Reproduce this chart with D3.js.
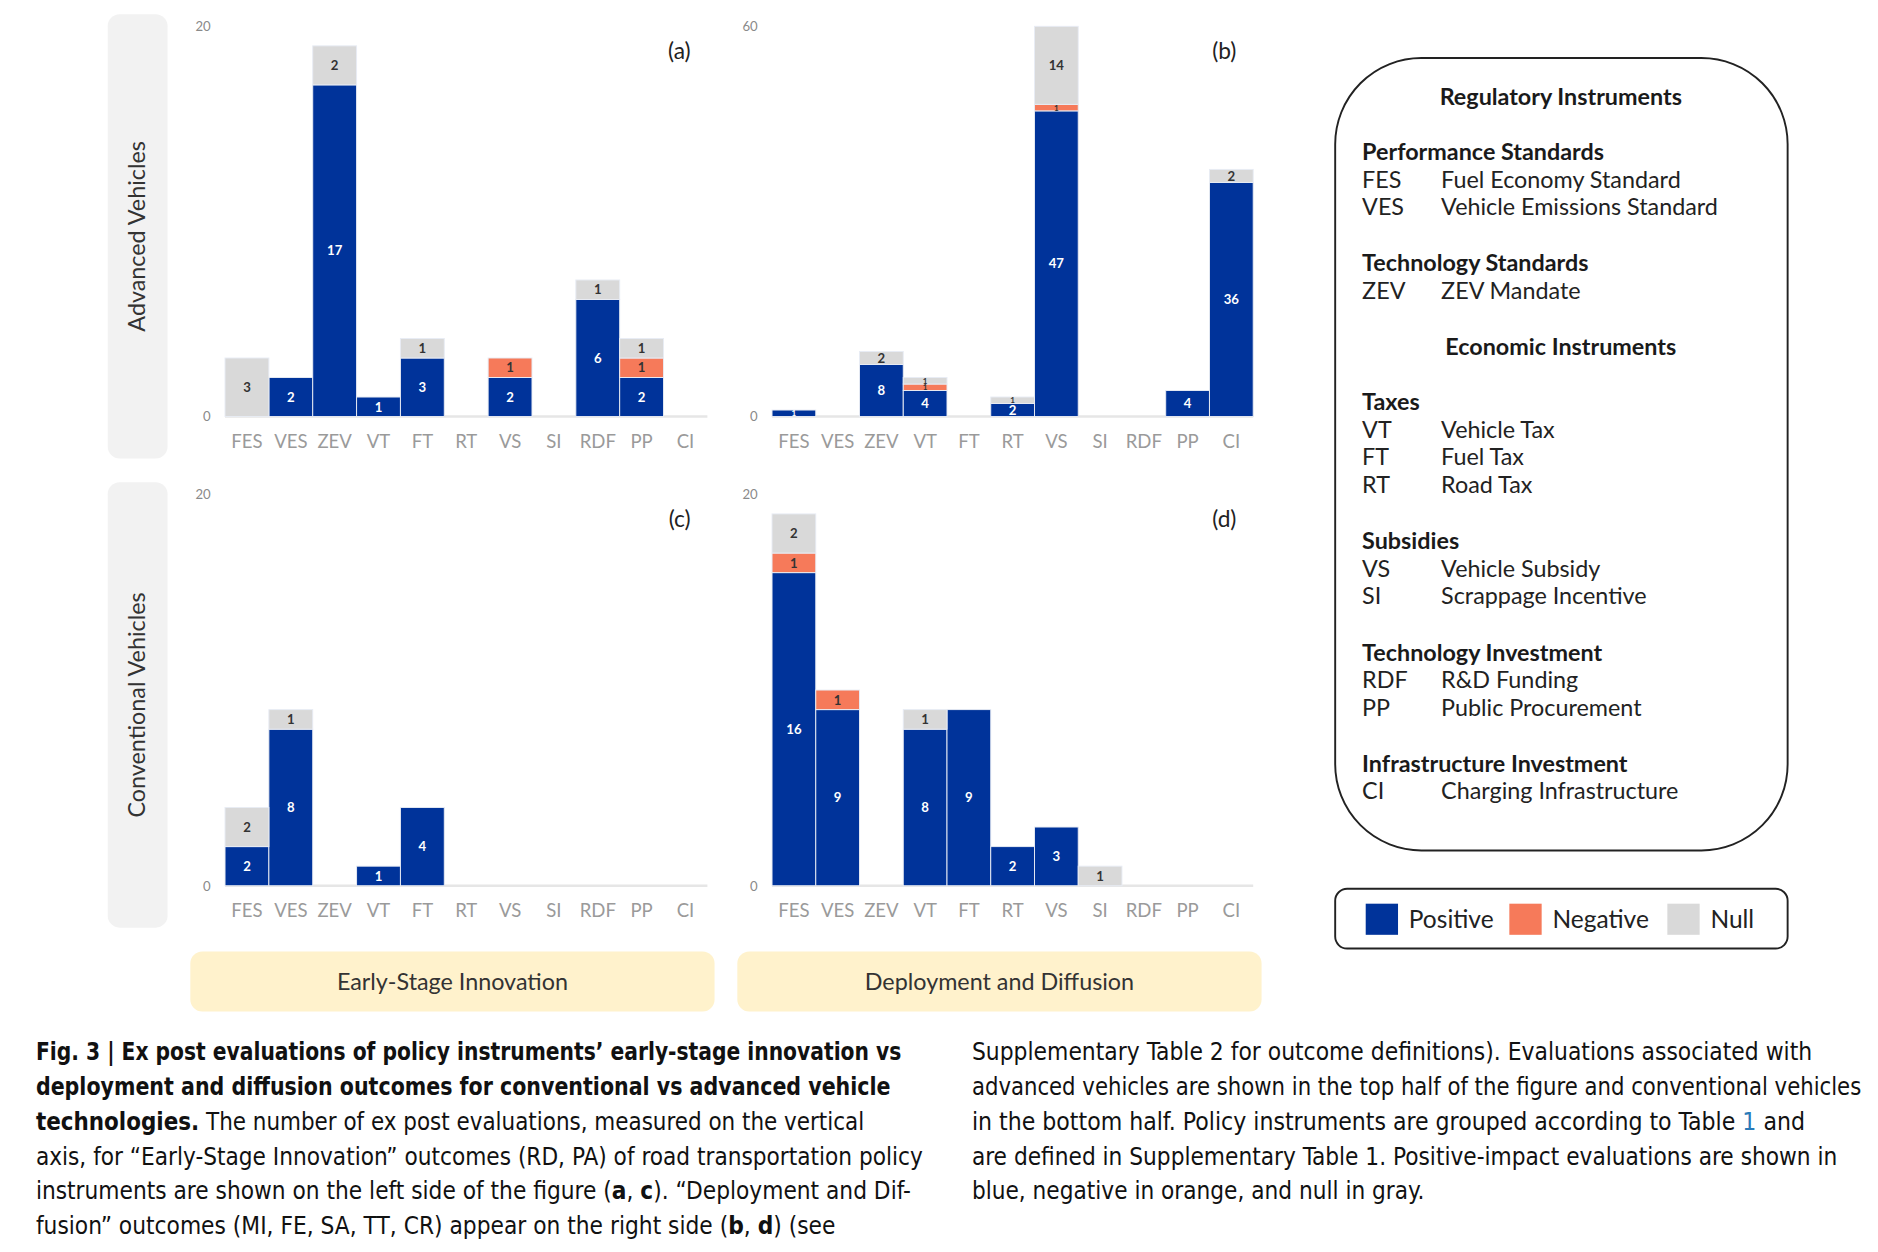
<!DOCTYPE html>
<html>
<head>
<meta charset="utf-8">
<script src="https://cdn.jsdelivr.net/npm/d3@7"></script>
<style>
  html, body { margin: 0; padding: 0; background: #fff; }
  svg { display: block; }
</style>
</head>
<body>
<svg id="fig" width="1878" height="1252" viewBox="0 0 1569 1046"></svg>
<script>
// instruments on the x axis
var categories = ["FES", "VES", "ZEV", "VT", "FT", "RT", "VS", "SI", "RDF", "PP", "CI"];

// (a) advanced vehicles, early-stage innovation
var advEarlyPos  = [0, 2, 17, 1, 3, 0, 2, 0, 6, 2, 0];
var advEarlyNeg  = [0, 0, 0, 0, 0, 0, 1, 0, 0, 1, 0];
var advEarlyNull = [3, 0, 2, 0, 1, 0, 0, 0, 1, 1, 0];
// (b) advanced vehicles, deployment and diffusion
var advDeployPos  = [1, 0, 8, 4, 0, 2, 47, 0, 0, 4, 36];
var advDeployNeg  = [0, 0, 0, 1, 0, 0, 1, 0, 0, 0, 0];
var advDeployNull = [0, 0, 2, 1, 0, 1, 14, 0, 0, 0, 2];
// (c) conventional vehicles, early-stage innovation
var convEarlyPos  = [2, 8, 0, 1, 4, 0, 0, 0, 0, 0, 0];
var convEarlyNeg  = [0, 0, 0, 0, 0, 0, 0, 0, 0, 0, 0];
var convEarlyNull = [2, 1, 0, 0, 0, 0, 0, 0, 0, 0, 0];
// (d) conventional vehicles, deployment and diffusion
var convDeployPos  = [16, 9, 0, 8, 9, 2, 3, 0, 0, 0, 0];
var convDeployNeg  = [1, 1, 0, 0, 0, 0, 0, 0, 0, 0, 0];
var convDeployNull = [2, 0, 0, 1, 0, 0, 0, 1, 0, 0, 0];

var axisMaxTop = 60;     // top-right panel
var axisMaxOther = 20;   // the three others

var outcomeKeys = ["Positive", "Negative", "Null"];
var outcomeColors = ["#00339a", "#f67a5a", "#d9d9d9"];

var svg = d3.select("#fig");
var color = d3.scaleOrdinal().domain(outcomeKeys).range(outcomeColors);

var FONT = "Lato, 'Open Sans', sans-serif";

function rows(pos, neg, nul) {
  return categories.map(function(c, i) {
    return { cat: c, Positive: pos[i], Negative: neg[i], Null: nul[i] };
  });
}

function drawPanel(opt) {
  var x = d3.scaleBand().domain(categories).range([opt.x0, opt.x1]).padding(0);
  var y = d3.scaleLinear().domain([0, opt.max]).range([opt.y0, opt.y1]);
  var g = svg.append("g");

  var series = d3.stack().keys(outcomeKeys)(opt.data);

  // baseline
  g.append("line")
    .attr("x1", opt.x0).attr("x2", opt.x1)
    .attr("y1", y(0)).attr("y2", y(0))
    .attr("stroke", "#e6e6e6").attr("stroke-width", 2);

  var layer = g.selectAll("g.layer").data(series).enter().append("g")
    .attr("class", "layer")
    .attr("fill", function(d) { return color(d.key); });

  layer.selectAll("rect").data(function(d) { return d.filter(function(s) { return s[1] > s[0]; }); })
    .enter().append("rect")
      .attr("x", function(d) { return x(d.data.cat); })
      .attr("width", x.bandwidth())
      .attr("y", function(d) { return y(Math.min(d[1], opt.max)); })
      .attr("height", function(d) { return y(d[0]) - y(Math.min(d[1], opt.max)); })
      .attr("stroke", "#e8ecf4").attr("stroke-width", 0.8);

  // value labels
  series.forEach(function(s) {
    s.forEach(function(d) {
      var v = d[1] - d[0];
      if (v <= 0) return;
      var top = y(Math.min(d[1], opt.max)), bot = y(d[0]);
      var h = bot - top;
      var fs = Math.max(6.5, Math.min(11, h * 1.25));
      g.append("text")
        .attr("x", x(d.data.cat) + x.bandwidth() / 2)
        .attr("y", (top + bot) / 2)
        .attr("dy", "0.36em")
        .attr("text-anchor", "middle")
        .attr("font-family", FONT)
        .attr("font-weight", 700)
        .attr("font-size", fs)
        .attr("fill", s.key === "Positive" ? "#fff" : "#333")
        .text(v);
    });
  });

  // y ticks (only 0 and max)
  var ya = g.append("g").attr("transform", "translate(" + opt.x0 + ",0)")
    .call(d3.axisLeft(y).tickValues([0, opt.max]).tickSize(0).tickPadding(12));
  ya.select(".domain").remove();
  ya.selectAll("text").attr("font-family", FONT).attr("font-size", 11).attr("fill", "#8a8a8a");

  // x ticks
  var xa = g.append("g").attr("transform", "translate(0," + y(0) + ")")
    .call(d3.axisBottom(x).tickSize(0).tickPadding(15.5));
  xa.select(".domain").remove();
  xa.selectAll("text").attr("font-family", FONT).attr("font-size", 15.5).attr("fill", "#9a9a9a");

  g.append("text")
    .attr("x", opt.x1 - 14).attr("y", opt.y1 + 21).attr("dy", "0.35em")
    .attr("text-anchor", "end")
    .attr("font-family", FONT).attr("font-size", 19).attr("fill", "#222")
    .text(opt.tag);
}

var leftX = [188, 591], rightX = [645, 1047];
var topY = [348, 22], botY = [740, 413];

drawPanel({ x0: leftX[0], x1: leftX[1], y0: topY[0], y1: topY[1], max: axisMaxOther, tag: "(a)",
  data: rows(advEarlyPos, advEarlyNeg, advEarlyNull) });
drawPanel({ x0: rightX[0], x1: rightX[1], y0: topY[0], y1: topY[1], max: axisMaxTop, tag: "(b)",
  data: rows(advDeployPos, advDeployNeg, advDeployNull) });
drawPanel({ x0: leftX[0], x1: leftX[1], y0: botY[0], y1: botY[1], max: axisMaxOther, tag: "(c)",
  data: rows(convEarlyPos, convEarlyNeg, convEarlyNull) });
drawPanel({ x0: rightX[0], x1: rightX[1], y0: botY[0], y1: botY[1], max: axisMaxOther, tag: "(d)",
  data: rows(convDeployPos, convDeployNeg, convDeployNull) });

// row labels on the left
[["Advanced Vehicles", 12, 383], ["Conventional Vehicles", 403, 775]].forEach(function(r) {
  svg.append("rect").attr("x", 90).attr("y", r[1]).attr("width", 50).attr("height", r[2] - r[1])
    .attr("rx", 10).attr("fill", "#f2f2f2");
  svg.append("text")
    .attr("transform", "translate(121," + (r[1] + r[2]) / 2 + ") rotate(-90)")
    .attr("text-anchor", "middle")
    .attr("font-family", FONT).attr("font-size", 19.5).attr("fill", "#333")
    .text(r[0]);
});

// column labels at the bottom
[["Early-Stage Innovation", 159], ["Deployment and Diffusion", 616]].forEach(function(c) {
  svg.append("rect").attr("x", c[1]).attr("y", 795).attr("width", 438).attr("height", 50)
    .attr("rx", 10).attr("fill", "#fff2cc");
  svg.append("text").attr("x", c[1] + 219).attr("y", 820).attr("dy", "0.35em")
    .attr("text-anchor", "middle")
    .attr("font-family", FONT).attr("font-size", 19.5).attr("fill", "#333")
    .text(c[0]);
});

// instrument key
svg.append("rect").attr("x", 1115.5).attr("y", 48.5).attr("width", 378).attr("height", 662)
  .attr("rx", 72).attr("fill", "none").attr("stroke", "#222").attr("stroke-width", 1.6);

var keyLines = [
  ["center", "Regulatory Instruments", 81],
  ["head", "Performance Standards", 127],
  ["item", "FES", "Fuel Economy Standard", 150],
  ["item", "VES", "Vehicle Emissions Standard", 173],
  ["head", "Technology Standards", 220],
  ["item", "ZEV", "ZEV Mandate", 243],
  ["center", "Economic Instruments", 290],
  ["head", "Taxes", 336],
  ["item", "VT", "Vehicle Tax", 359],
  ["item", "FT", "Fuel Tax", 382],
  ["item", "RT", "Road Tax", 405],
  ["head", "Subsidies", 452],
  ["item", "VS", "Vehicle Subsidy", 475],
  ["item", "SI", "Scrappage Incentive", 498],
  ["head", "Technology Investment", 545],
  ["item", "RDF", "R&D Funding", 568],
  ["item", "PP", "Public Procurement", 591],
  ["head", "Infrastructure Investment", 638],
  ["item", "CI", "Charging Infrastructure", 661]
];
keyLines.forEach(function(k) {
  if (k[0] === "center") {
    svg.append("text").attr("x", 1304).attr("y", k[2]).attr("dy", "0.35em")
      .attr("text-anchor", "middle").attr("font-family", FONT).attr("font-size", 19.5)
      .attr("font-weight", 700).attr("fill", "#1a1a1a").text(k[1]);
  } else if (k[0] === "head") {
    svg.append("text").attr("x", 1138).attr("y", k[2]).attr("dy", "0.35em")
      .attr("font-family", FONT).attr("font-size", 19.5)
      .attr("font-weight", 700).attr("fill", "#1a1a1a").text(k[1]);
  } else {
    svg.append("text").attr("x", 1138).attr("y", k[3]).attr("dy", "0.35em")
      .attr("font-family", FONT).attr("font-size", 19.5).attr("fill", "#222").text(k[1]);
    svg.append("text").attr("x", 1204).attr("y", k[3]).attr("dy", "0.35em")
      .attr("font-family", FONT).attr("font-size", 19.5).attr("fill", "#222").text(k[2]);
  }
});

// colour legend
svg.append("rect").attr("x", 1115.5).attr("y", 742.5).attr("width", 378).attr("height", 50)
  .attr("rx", 10).attr("fill", "none").attr("stroke", "#222").attr("stroke-width", 1.6);
var legX = [1141, 1261, 1393];
outcomeKeys.forEach(function(k, i) {
  svg.append("rect").attr("x", legX[i]).attr("y", 755).attr("width", 27).attr("height", 26)
    .attr("fill", color(k));
  svg.append("text").attr("x", legX[i] + 36).attr("y", 768).attr("dy", "0.35em")
    .attr("font-family", FONT).attr("font-size", 20.5).attr("fill", "#222").text(k);
});

// caption
var CAP = "'Liberation Sans Narrow', 'DejaVu Sans Condensed', Roboto, sans-serif";
var captionLeft = [
  [[["Fig. 3 | Ex post evaluations of policy instruments\u2019 early-stage innovation vs", 1]], 723],
  [[["deployment and diffusion outcomes for conventional vs advanced vehicle", 1]], 714],
  [[["technologies.", 1], [" The number of ex post evaluations, measured on the vertical", 0]], 692],
  [[["axis, for \u201cEarly-Stage Innovation\u201d outcomes (RD, PA) of road transportation policy", 0]], 741],
  [[["instruments are shown on the left side of the figure (", 0], ["a", 1], [", ", 0], ["c", 1], [").  \u201cDeployment and Dif-", 0]], 731],
  [[["fusion\u201d outcomes (MI, FE, SA, TT, CR) appear on the right side (", 0], ["b", 1], [", ", 0], ["d", 1], [") (see", 0]], 668]
];
var captionRight = [
  [[["Supplementary Table 2 for outcome definitions). Evaluations associated with", 0]], 702],
  [[["advanced vehicles are shown in the top half of the figure and conventional vehicles", 0]], 743],
  [[["in the bottom half. Policy instruments are grouped according to Table ", 0], ["1", 2], [" and", 0]], 696],
  [[["are defined in Supplementary Table 1. Positive-impact evaluations are shown in", 0]], 723],
  [[["blue, negative in orange, and null in gray.", 0]], 378]
];
function drawCaption(lines, x0) {
  lines.forEach(function(line, i) {
    var t = svg.append("text").attr("x", x0).attr("y", 879 + i * 29).attr("dy", "0.35em")
      .attr("font-family", CAP).attr("font-size", 20).attr("fill", "#111")
      .attr("textLength", line[1]).attr("lengthAdjust", "spacingAndGlyphs");
    line[0].forEach(function(part) {
      t.append("tspan")
        .attr("font-weight", part[1] === 1 ? 700 : 400)
        .attr("fill", part[1] === 2 ? "#2a7ab8" : "#111")
        .text(part[0]);
    });
  });
}
drawCaption(captionLeft, 30);
drawCaption(captionRight, 812);
</script>
</body>
</html>
